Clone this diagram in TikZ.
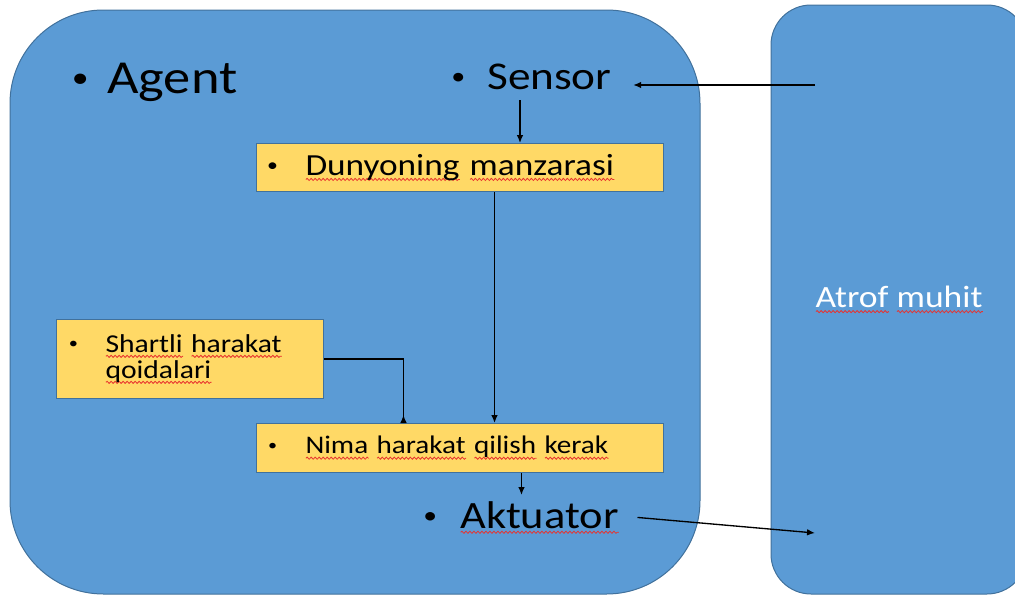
\documentclass[tikz,border=0pt]{standalone}
\usepackage{fontspec}
\setmainfont{Carlito}[FakeStretch=1.15]
\usetikzlibrary{arrows.meta,decorations.pathmorphing}
\usetikzlibrary{positioning}

\definecolor{accblue}{HTML}{5B9BD5}
\definecolor{accedge}{HTML}{41719C}
\definecolor{noteyel}{HTML}{FFD966}
\definecolor{spellred}{HTML}{E8322E}

\newsavebox\wavebox
\newlength\wavelen
\newcommand{\wavy}[1]{\sbox\wavebox{#1}\setlength\wavelen{\wd\wavebox}\leavevmode
  \rlap{\tikz[baseline=0pt]\draw[spellred, line width=0.6pt, sharp corners, decorate,
      decoration={snake, amplitude=0.8pt, segment length=3pt}] (0pt,-3.2pt) -- (\wavelen,-3.2pt);}%
  \usebox\wavebox}
\newcommand{\bul}[1]{\llap{\makebox[#1]{\raisebox{0.12em}{\scalebox{0.62}{\textbullet}}}}}

\begin{document}
\begin{tikzpicture}[x=0.75pt, y=-0.75pt,
    bigbox/.style={draw=accedge, fill=accblue, line width=0.75pt},
    notebox/.style={draw=accedge, fill=noteyel, line width=0.75pt, inner sep=0pt, anchor=north west, align=left},
    txtnode/.style={inner sep=0pt, anchor=base west},
    arr/.style={-{Latex[length=6pt,width=5pt]}, line width=1pt}]
    \useasboundingbox (0,0) rectangle (1015,596);
    \clip (0,0) rectangle (1015,596);
    % the two large panels
    \node[bigbox, rounded corners=70pt, minimum width=517.5pt, minimum height=438pt] (agent) at (355,302) {};
    \node[bigbox, rounded corners=30pt, minimum width=192pt, minimum height=441.75pt, text=white,
          font=\fontsize{23.2}{28}\selectfont] (env) at (899,299.5) {\wavy{Atrof} \wavy{muhit}};
    % agent parts
    \node[txtnode, font=\fontsize{35.5}{40}\selectfont] (agenttitle) at (107,93) {\bul{40.5pt}Agent};
    \node[txtnode, font=\fontsize{29.5}{34}\selectfont] (sensor) at (487,89) {\bul{43.5pt}Sensor};
    \node[notebox, text width=305.25pt, minimum height=36pt, font=\fontsize{23}{26}\selectfont] (dunyo) at (256,143)
        {\hspace*{36.75pt}\bul{49.5pt}\wavy{Dunyoning} \wavy{manzarasi}};
    \node[notebox, text width=200.25pt, minimum height=59.25pt, font=\fontsize{19.3}{19.5}\selectfont] (shartli) at (56,319)
        {\hspace*{36.75pt}\bul{48pt}\wavy{Shartli} \wavy{harakat}\\\hspace*{36.75pt}\wavy{qoidalari}};
    \node[notebox, text width=305.25pt, minimum height=36.75pt, font=\fontsize{19}{22}\selectfont] (nima) at (256,423)
        {\hspace*{36.75pt}\bul{49.5pt}\wavy{Nima} \wavy{harakat} \wavy{qilish} \wavy{kerak}};
    \node[txtnode, font=\fontsize{29}{34}\selectfont] (akt) at (460,528) {\bul{45pt}\wavy{Aktuator}};
    % connectors
    \coordinate (envin) at (815,85);
    \coordinate (envout) at (815,533);
    \coordinate (sensout) at (520,100);
    \draw[arr] (envin) -- ([xshift=16pt]sensor.east |- envin);
    \draw[arr] (sensout) -- (sensout |- dunyo.north);
    \draw[arr] ([xshift=25.9pt]dunyo.south) -- ([xshift=25.9pt]nima.north);
    \draw[arr, -{Latex[length=6pt,width=5pt,reversed]}] (shartli.east) -| ([xshift=-42.4pt]nima.north);
    \draw[arr] ([xshift=46.1pt]nima.south) -- ++(0,22);
    \draw[arr] ([xshift=14pt]akt.east) -- (envout);
\end{tikzpicture}
\end{document}
